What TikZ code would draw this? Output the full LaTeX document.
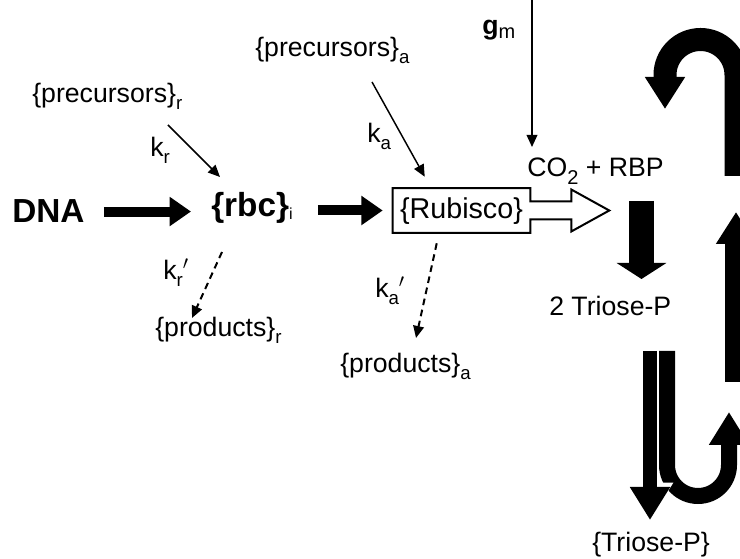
\documentclass[tikz,border=0pt]{standalone}
\usepackage{fontspec}
\setmainfont{Liberation Sans}
\usetikzlibrary{arrows.meta,calc}
\newcommand\subtxt[3]{\raisebox{#1}{\fontsize{#2}{#2}\selectfont\mdseries #3}}
\begin{document}
\begin{tikzpicture}[x=0.75pt,y=-0.75pt,
  txt/.style={inner sep=0pt, anchor=base west, font=\fontsize{20}{24}\selectfont},
  bigtxt/.style={inner sep=0pt, anchor=base west, font=\fontsize{25}{30}\selectfont\bfseries},
  thinarrow/.style={line width=1.1pt, -{Triangle[width=8pt,length=9pt]}},
  dasharrow/.style={line width=1.5pt, dash pattern=on 5pt off 3.5pt, -{Triangle[width=8pt,length=9pt]}},
  fatA/.style={line width=7.5pt, -{Triangle[width=21pt,length=16pt]}},
  boxline/.style={line width=1.5pt, line join=miter},
  bandA/.style={line width=17.25pt, -{Triangle[width=28.5pt,length=24pt]}},
  bandB/.style={line width=10.5pt, -{Triangle[width=28.5pt,length=24.75pt]}},
  bandC/.style={line width=12pt, -{Triangle[width=28.5pt,length=24.75pt]}},
  halo/.style={white, line width=13.5pt, -{Triangle[width=33pt,length=28pt]}},
  dropA/.style={line width=18.75pt, -{Triangle[width=36.75pt,length=12pt]}}
]
\useasboundingbox (0,0) rectangle (740,559);
\fill[white] (0,0) rectangle (740,559);
\clip (0,0) rectangle (740,559);

% texts
\node[bigtxt] (dna) at (12,223) {DNA};
\node[bigtxt] (rbc) at (211,217) {\{rbc\}\subtxt{-2pt}{12}{i}};
\node[txt] (precr) at (32,103) {\{precursors\}\subtxt{-5pt}{14}{r}};
\node[txt] (kr) at (150,157) {k\subtxt{-5pt}{14}{r}};
\node[txt] (krp) at (163,280) {k\subtxt{-5pt}{14}{r}$'$};
\node[txt] (prodr) at (155,337) {\{products\}\subtxt{-5pt}{14}{r}};
\node[txt] (preca) at (255,57) {\{precursors\}\subtxt{-5pt}{14}{a}};
\node[txt] (ka) at (367,143) {k\subtxt{-5pt}{14}{a}};
\node[txt] (gm) at (482,35) {\textbf{g}\subtxt{-2.5pt}{15}{m}};
\node[txt] (co2) at (527,177) {CO\subtxt{-6pt}{15}{2} + RBP};
\node[txt] (kap) at (375,298) {k\subtxt{-5pt}{14}{a}$'$};
\node[txt] (proda) at (340,373) {\{products\}\subtxt{-5pt}{14}{a}};
\node[txt] (tri) at (549,316) {2 Triose-P};
\node[txt] (trip) at (592,552) {\{Triose-P\}};
\node[txt, anchor=center, font=\fontsize{21.5}{24}\selectfont, minimum width=102.75pt, minimum height=33pt, text depth=3pt] (rub) at (461.5,210.5) {\{Rubisco\}};

% Rubisco box with hollow arrow
\draw[boxline] ($(rub.east)+(0,-9)$) -- (rub.north east) -- (rub.north west) -- (rub.south west)
  -- (rub.south east) -- ($(rub.east)+(0,9)$) -- ++(41,0) -- ++(0,12) -- ++(38,-21)
  -- ++(-38,-21) -- ++(0,12) -- cycle;

% thick arrows along the main line
\draw[fatA, shorten <=14.25pt, shorten >=15pt] (dna.east) -- (dna.east -| rbc.west);
\draw[fatA, shorten <=18.75pt, shorten >=7.5pt] (rbc.east |- rub.west) -- (rub.west);

% thin arrows
\draw[thinarrow] ($(precr.base west)+(136,22)$) -- ($(rbc.base west)+(9,-40)$);
\draw[thinarrow] ($(preca.base west)+(117,25)$) -- ($(rub.north west)+(32,-11.5)$);
\coordinate (gtop) at (532,-2);
\draw[thinarrow] (gtop) -- ($(co2.base west)+(5,-30)$);
\draw[dasharrow] ($(rbc.base west)+(11,35)$) -- ($(prodr.base west)+(37,-19)$);
\draw[dasharrow] ($(rub.south west)+(44,10.5)$) -- ($(proda.base west)+(76,-35)$);

% CO2 + RBP -> 2 Triose-P
\draw[dropA] ($(co2.base west)+(114.5,24)$) -- ($(tri.base west)+(92.5,-37)$);

% cycle arrows on the right
\coordinate (uR) at (736,176);
\coordinate (uB) at (736,382);
\coordinate (uT) at (736,212);
\draw[bandA] (uR) -- (736,75) arc (0:-180:35.5) -- ($(co2.base west)+(138,-68)$);
\draw[bandA] (uB) -- (uT);

% split below 2 Triose-P
\draw[bandC] ($(tri.base west)+(118,35)$) -- ++(0,114) arc (180:0:31) -- ++(0,-53);
\draw[halo] ($(tri.base west)+(101,35)$) -- ($(trip.base west)+(58,-32)$);
\draw[bandB] ($(tri.base west)+(101,35)$) -- ($(trip.base west)+(58,-32)$);
\end{tikzpicture}
\end{document}
